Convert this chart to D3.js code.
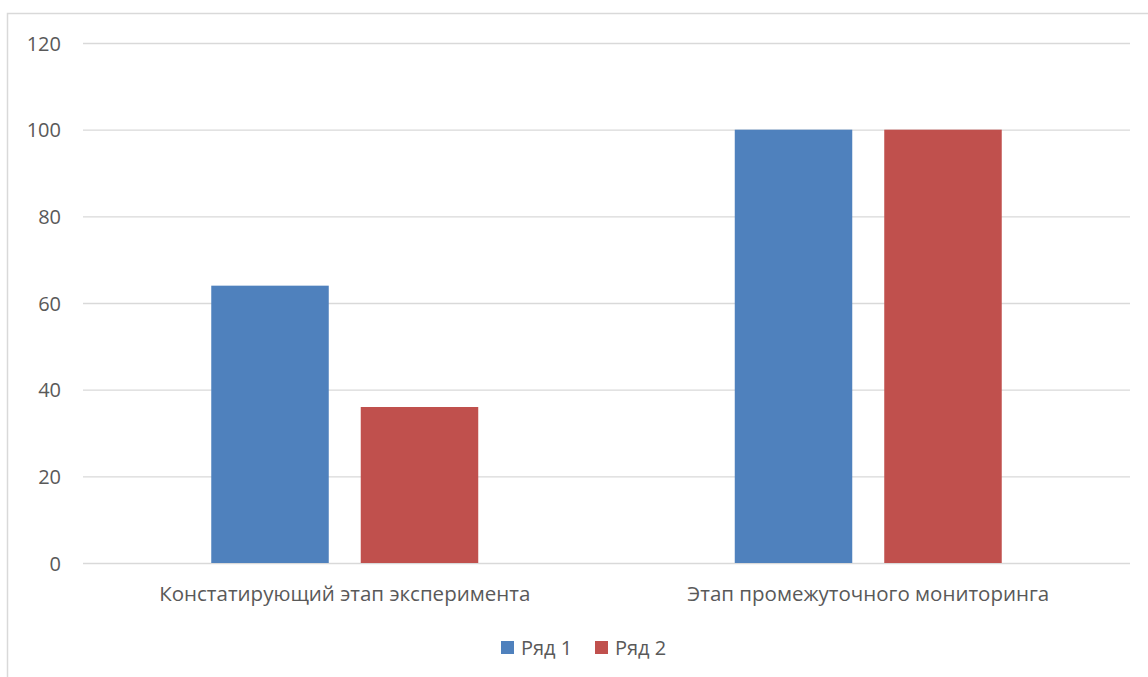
<!DOCTYPE html>
<html>
<head>
<meta charset="utf-8">
<script src="https://cdn.jsdelivr.net/npm/d3@7"></script>
<style>
  html, body { margin: 0; padding: 0; background: #fff; }
  svg { display: block; }
  text { font-family: "Open Sans", "Noto Sans", sans-serif; fill: #595959; }
</style>
</head>
<body>
<svg id="chart" width="1148" height="677"></svg>
<script>
// Chart data
const categories = ["Констатирующий этап эксперимента", "Этап промежуточного мониторинга"];
const seriesNames = ["Ряд 1", "Ряд 2"];
const series1 = [64, 100];
const series2 = [36, 100];
const yTicks = [0, 20, 40, 60, 80, 100, 120];
const seriesColors = ["#4f81bd", "#c0504d"];

const seriesValues = [series1, series2];

const svg = d3.select("#chart");
const fontSize = 20;
const catFontSize = 20.5;

// Chart area frame (extends past the visible window on right/bottom)
svg.append("rect")
  .attr("x", 7.5).attr("y", 13.5)
  .attr("width", 1160).attr("height", 700)
  .attr("fill", "#fff")
  .attr("stroke", "#d9d9d9")
  .attr("stroke-width", 1.5);

const plot = { left: 83, right: 1130, top: 43, bottom: 563 };

const y = d3.scaleLinear()
  .domain([0, 120])
  .range([plot.bottom, plot.top]);

const x0 = d3.scaleBand()
  .domain(categories)
  .range([plot.left, plot.right])
  .paddingInner(0.49)
  .paddingOuter(0.245);

const x1 = d3.scaleBand()
  .domain(seriesNames)
  .range([0, x0.bandwidth()])
  .paddingInner(0.214)
  .paddingOuter(0);

// Gridlines and value labels
const yAxis = d3.axisLeft(y)
  .tickValues(yTicks)
  .tickSize(-(plot.right - plot.left))
  .tickPadding(22)
  .tickFormat(d3.format("d"));

const gy = svg.append("g")
  .attr("transform", `translate(${plot.left},0)`)
  .call(yAxis);
gy.select(".domain").remove();
gy.selectAll(".tick line")
  .attr("stroke", "#d9d9d9")
  .attr("stroke-width", 1.3);
gy.selectAll(".tick text")
  .attr("font-size", fontSize)
  .attr("dy", null)
  .attr("y", 7.3)
  .style("fill", "#595959");

// Bars
const groups = svg.append("g").selectAll("g")
  .data(categories)
  .join("g")
  .attr("transform", d => `translate(${x0(d)},0)`);

groups.selectAll("rect")
  .data((c, i) => seriesNames.map((s, k) => ({ s, k, v: seriesValues[k][i] })))
  .join("rect")
  .attr("x", d => x1(d.s))
  .attr("width", x1.bandwidth())
  .attr("y", d => y(d.v))
  .attr("height", d => y(0) - y(d.v))
  .attr("fill", d => seriesColors[d.k]);

// Category labels
const xAxis = d3.axisBottom(x0).tickSize(0).tickPadding(0);
const gx = svg.append("g")
  .attr("transform", `translate(0,${plot.bottom})`)
  .call(xAxis);
gx.select(".domain").remove();
gx.selectAll(".tick text")
  .attr("font-size", catFontSize)
  .attr("dy", null)
  .attr("y", 38)
  .style("fill", "#595959");

// Legend
const legend = svg.append("g");
let lx = 501;
seriesNames.forEach((name, k) => {
  legend.append("rect")
    .attr("x", lx).attr("y", 641)
    .attr("width", 13).attr("height", 13)
    .attr("fill", seriesColors[k]);
  legend.append("text")
    .attr("x", lx + 20).attr("y", 654.5)
    .attr("font-size", fontSize)
    .text(name);
  lx += 94;
});
</script>
</body>
</html>
